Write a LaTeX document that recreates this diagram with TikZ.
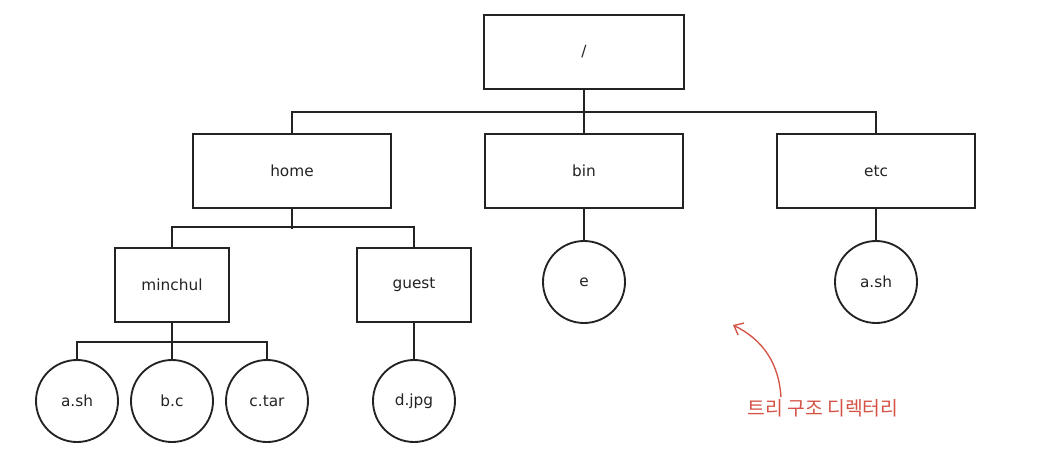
\documentclass[tikz,border=0pt]{standalone}
\usepackage{fontspec}
\setmainfont{DejaVu Sans}
\newfontfamily\krfont{Noto Sans CJK KR}
\usepackage{tikz}
\usepackage{xcolor}
\usetikzlibrary{arrows.meta}
\definecolor{inkline}{RGB}{35,35,35}
\definecolor{notered}{RGB}{212,82,70}

\begin{document}
\begin{tikzpicture}[x=0.75pt,y=-0.75pt,every node/.style={font=\fontsize{11.5}{13}\selectfont,text=inkline},
  dirbox/.style={draw=inkline,line width=1.4pt,minimum width=148.5pt,minimum height=55.5pt,inner sep=0pt},
  subbox/.style={dirbox,minimum width=86pt},
  filecirc/.style={draw=inkline,line width=1.4pt,circle,minimum size=61.5pt,inner sep=0pt},
  link/.style={draw=inkline,line width=1.4pt},
  note/.style={draw=notered,line width=1pt,-{Straight Barb[length=6pt,width=10pt]}}]
\useasboundingbox (0,0) rectangle (1043,475);
\node[dirbox,minimum width=150pt] (root) at (584,52) {/};
\node[dirbox] (home) at (292,171) {home};
\node[dirbox] (bin) at (584,171) {bin};
\node[dirbox] (etc) at (876,171) {etc};
\node[subbox] (minchul) at (172,285) {minchul};
\node[subbox] (guest) at (414,285) {guest};
\node[filecirc] (ash) at (77,401) {a.sh};
\node[filecirc] (bc) at (172,401) {b.c};
\node[filecirc] (ctar) at (267,401) {c.tar};
\node[filecirc] (djpg) at (414,401) {d.jpg};
\node[filecirc] (e) at (584,282) {e};
\node[filecirc] (etcsh) at (876,282) {a.sh};
\node[font=\krfont\fontsize{14.5}{16}\selectfont,text=notered] (lbl) at (823,408) {트리 구조 디렉터리};
\coordinate (tip) at (733,325);
% root level
\draw[link] (root.south) -- (bin.north);
\draw[link] (home.north) -- ++(0,-21) -| (etc.north);
% home level
\draw[link] (home.south) -- ++(0,20);
\draw[link] (minchul.north) -- ++(0,-20) -| (guest.north);
% files
\draw[link] (minchul.south) -- (bc.north);
\draw[link] (ash.north) -- ++(0,-17) -| (ctar.north);
\draw[link] (guest.south) -- (djpg.north);
\draw[link] (bin.south) -- (e.north);
\draw[link] (etc.south) -- (etcsh.north);
% note
\draw[note] ([xshift=-31.5pt,yshift=-2pt]lbl.north) to[bend right=30] (tip);
\end{tikzpicture}
\end{document}
